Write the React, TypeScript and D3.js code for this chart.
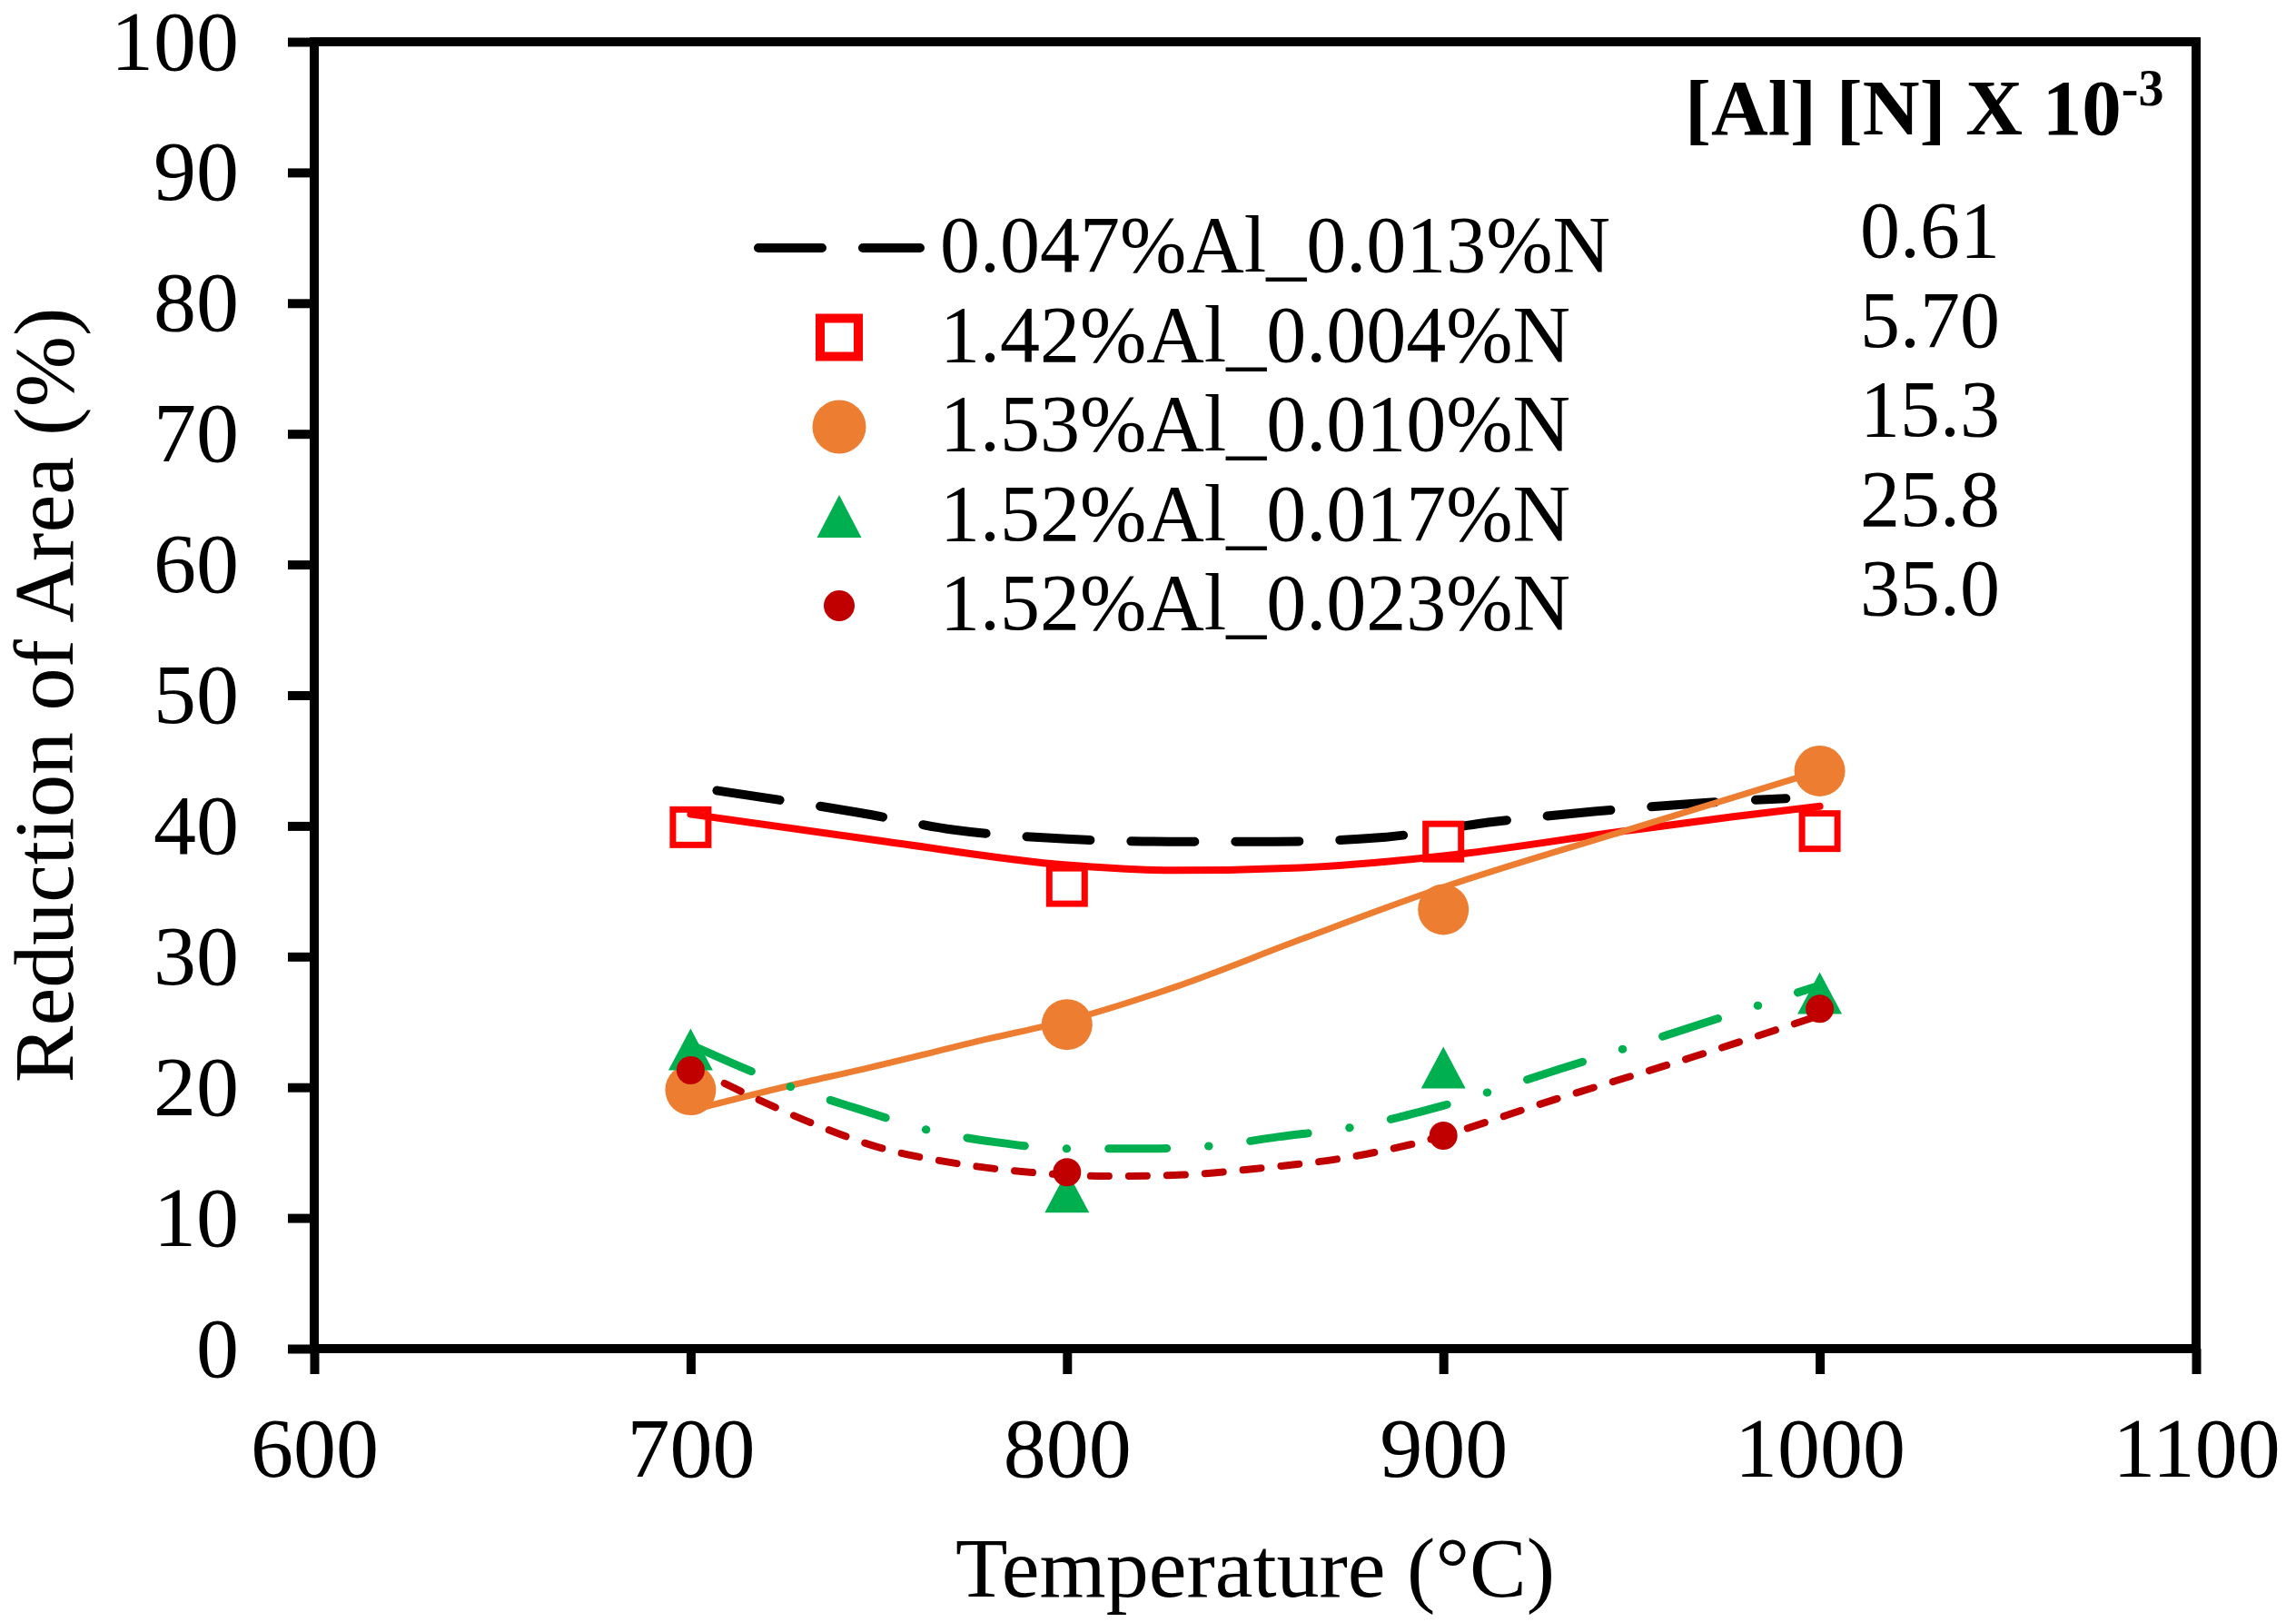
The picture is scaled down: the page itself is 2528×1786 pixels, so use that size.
import React, { useEffect, useRef } from "react";
import * as d3 from "d3";

// measured points (temperature °C -> reduction of area %)
const temps = [700, 800, 900, 1000];
const ra142Al004N = [39.9, 35.4, 38.8, 39.6];
const ra153Al010N = [19.8, 24.8, 33.6, 44.2];
const ra152Al017N = [22.9, 12.0, 21.5, 27.2];
const ra152Al023N = [21.3, 13.5, 16.3, 26.0];

// trend curves, [temperature, RA]
const trend047Al013N: [number, number][] = [
  [707, 42.7], [745, 41.0], [770, 39.7], [800, 39.0], [827, 38.8], [855, 38.8],
  [883, 39.1], [913, 40.3], [940, 41.1], [966, 41.7], [991, 42.1],
];
const trend142Al004N: [number, number][] = [
  [700, 40.9], [752, 38.8], [800, 37.0], [829, 36.6], [862, 36.8], [900, 37.7],
  [948, 39.6], [977, 40.7], [1000, 41.5],
];
const trend153Al010N: [number, number][] = [
  [701, 18.3], [726, 20.1], [746, 21.4], [779, 23.7], [800, 25.1], [829, 27.7],
  [862, 31.3], [900, 35.3], [948, 39.6], [1000, 44.2],
];
const trend152Al017N: [number, number][] = [
  [702, 23.0], [726, 20.1], [745, 18.3], [762, 16.8], [781, 15.8],
  [800, 15.3], [820, 15.3], [838, 15.5], [856, 16.2], [877, 17.0], [900, 18.6],
  [931, 21.4], [967, 24.7], [1000, 27.8],
];
const trend152Al023N: [number, number][] = [
  [709, 20.3], [731, 17.4], [750, 15.4], [770, 14.2], [790, 13.5], [810, 13.2],
  [831, 13.3], [851, 13.8], [876, 14.7], [891, 15.6], [930, 19.1], [965, 22.2],
  [1000, 25.5],
];

const legendLabels = [
  "0.047%Al_0.013%N",
  "1.42%Al_0.004%N",
  "1.53%Al_0.010%N",
  "1.52%Al_0.017%N",
  "1.52%Al_0.023%N",
];
const alnProducts = ["0.61", "5.70", "15.3", "25.8", "35.0"];

const xTicks = [600, 700, 800, 900, 1000, 1100];
const yTicks = [0, 10, 20, 30, 40, 50, 60, 70, 80, 90, 100];

const W = 2528;
const H = 1786;
const FONT = "'Liberation Serif', 'Times New Roman', serif";

const RED = "#ff0000";
const ORANGE = "#ed7d31";
const GREEN = "#00b050";
const DARKRED = "#c00000";

export default function App() {
  const svgRef = useRef<SVGSVGElement | null>(null);

  useEffect(() => {
    if (!svgRef.current) return;
    const svg = d3.select(svgRef.current);
    svg.selectAll("*").remove();

    const left = 346, right = 2418, top = 46, bottom = 1485;

    const x = d3.scaleLinear().domain([600, 1100]).range([left, right]);
    const y = d3.scaleLinear().domain([0, 100]).range([bottom, top]);
    const fmt = d3.format("d");

    svg.append("rect").attr("width", W).attr("height", H).attr("fill", "#fff");

    // axes
    const yAxis = svg
      .append("g")
      .attr("transform", `translate(${left},0)`)
      .call(
        d3.axisLeft(y).tickValues(yTicks).tickFormat(fmt).tickSize(29).tickPadding(54),
      );
    const xAxis = svg
      .append("g")
      .attr("transform", `translate(0,${bottom})`)
      .call(
        d3.axisBottom(x).tickValues(xTicks).tickFormat(fmt).tickSize(28).tickPadding(46),
      );

    [yAxis, xAxis].forEach((g) => {
      g.select(".domain").remove();
      g.selectAll("line").attr("stroke", "#000").attr("stroke-width", 10);
      g.selectAll("text")
        .attr("fill", "#000")
        .style("font-family", FONT)
        .style("font-size", "94px");
    });

    // frame
    svg
      .append("rect")
      .attr("x", left)
      .attr("y", top)
      .attr("width", right - left)
      .attr("height", bottom - top)
      .attr("fill", "none")
      .attr("stroke", "#000")
      .attr("stroke-width", 10);

    // axis titles
    svg
      .append("text")
      .attr("transform", `translate(80,${(top + bottom) / 2}) rotate(-90)`)
      .attr("text-anchor", "middle")
      .style("font-family", FONT)
      .style("font-size", "94px")
      .text("Reduction of Area (%)");

    svg
      .append("text")
      .attr("x", (left + right) / 2)
      .attr("y", 1758)
      .attr("text-anchor", "middle")
      .style("font-family", FONT)
      .style("font-size", "94px")
      .text("Temperature (°C)");

    const line = d3
      .line<[number, number]>()
      .x((d) => x(d[0]))
      .y((d) => y(d[1]))
      .curve(d3.curveMonotoneX);

    const plot = svg.append("g");

    const drawTrend = (
      pts: [number, number][],
      color: string,
      width: number,
      dash: string | null,
    ) => {
      plot
        .append("path")
        .datum(pts)
        .attr("fill", "none")
        .attr("stroke", color)
        .attr("stroke-width", width)
        .attr("stroke-linecap", "round")
        .attr("stroke-dasharray", dash)
        .attr("d", line);
    };

    const square = (g: any, cx: number, cy: number, s: number, sw: number) =>
      g
        .append("rect")
        .attr("x", cx - s / 2)
        .attr("y", cy - s / 2)
        .attr("width", s)
        .attr("height", s)
        .attr("fill", "#fff")
        .attr("stroke", RED)
        .attr("stroke-width", sw);

    const circle = (g: any, cx: number, cy: number, r: number, c: string) =>
      g.append("circle").attr("cx", cx).attr("cy", cy).attr("r", r).attr("fill", c);

    const triangle = (g: any, cx: number, cy: number, w: number, h: number) =>
      g
        .append("path")
        .attr(
          "d",
          `M${cx},${cy - h / 2}L${cx + w / 2},${cy + h / 2}L${cx - w / 2},${cy + h / 2}Z`,
        )
        .attr("fill", GREEN);

    // black dashed trend (no markers)
    drawTrend(trend047Al013N, "#000", 10, "70,45");

    // 1.42%Al: squares + solid red trend
    temps.forEach((t, i) => square(plot, x(t), y(ra142Al004N[i]), 39, 7));
    drawTrend(trend142Al004N, RED, 8, null);

    // 1.53%Al: orange circles + solid trend
    temps.forEach((t, i) => circle(plot, x(t), y(ra153Al010N[i]), 28, ORANGE));
    drawTrend(trend153Al010N, ORANGE, 7, null);

    // 1.52%Al_0.017%N: triangles + dash-dot trend
    temps.forEach((t, i) => triangle(plot, x(t), y(ra152Al017N[i]), 49, 46));
    drawTrend(trend152Al017N, GREEN, 9, "64,46,0.5,46");

    // 1.52%Al_0.023%N: small dark red dots + dotted trend
    temps.forEach((t, i) => circle(plot, x(t), y(ra152Al023N[i]), 15.5, DARKRED));
    drawTrend(trend152Al023N, DARKRED, 8, "20,22");

    // legend
    const leg = svg.append("g");
    const rowY = (i: number) => 273 + i * 98.5;
    const mx = 924;

    leg
      .append("line")
      .attr("x1", 835)
      .attr("x2", 1013)
      .attr("y1", rowY(0))
      .attr("y2", rowY(0))
      .attr("stroke", "#000")
      .attr("stroke-width", 10)
      .attr("stroke-linecap", "round")
      .attr("stroke-dasharray", "70,45");
    square(leg, mx, rowY(1), 42, 10);
    circle(leg, mx, rowY(2), 29.5, ORANGE);
    triangle(leg, mx, rowY(3), 49, 47);
    circle(leg, mx, rowY(4), 17, DARKRED);

    legendLabels.forEach((lab, i) => {
      leg
        .append("text")
        .attr("x", 1035)
        .attr("y", rowY(i) + 26)
        .style("font-family", FONT)
        .style("font-size", "88px")
        .text(lab);
    });

    alnProducts.forEach((v, i) => {
      leg
        .append("text")
        .attr("x", 2048)
        .attr("y", rowY(i) + 10)
        .style("font-family", FONT)
        .style("font-size", "88px")
        .text(v);
    });

    const hdr = leg
      .append("text")
      .attr("x", 1855)
      .attr("y", 148)
      .style("font-family", FONT)
      .style("font-size", "87px")
      .style("font-weight", "bold")
      .text("[Al] [N] X 10");
    hdr
      .append("tspan")
      .attr("dy", -32)
      .style("font-size", "56px")
      .text("-3");
  }, []);

  return (
    <svg
      ref={svgRef}
      width={W}
      height={H}
      style={{ position: "absolute", left: 0, top: 0, display: "block" }}
    />
  );
}
